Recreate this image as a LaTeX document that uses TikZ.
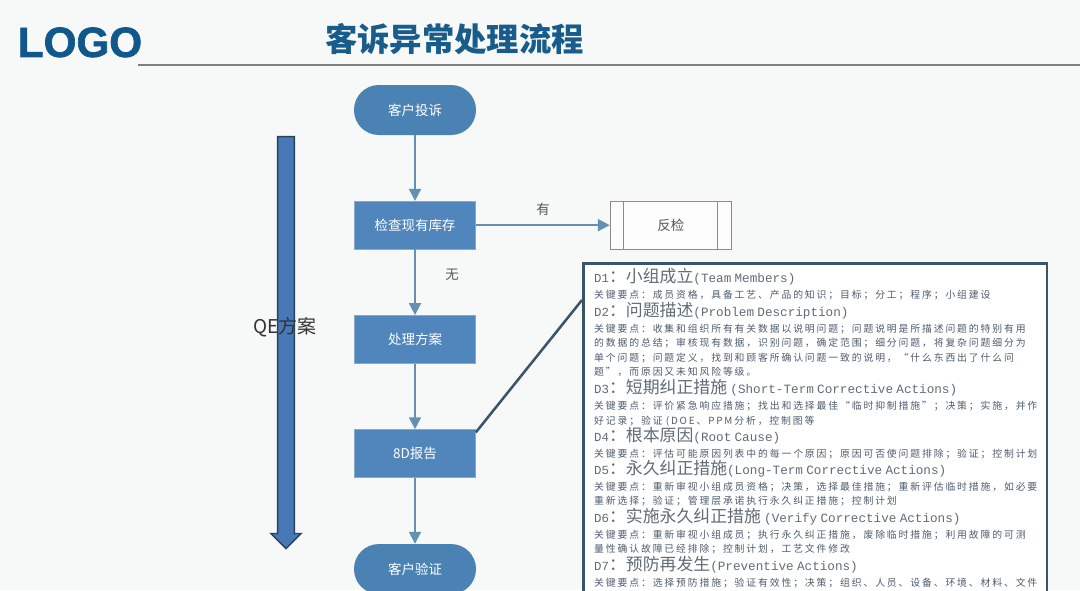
\documentclass[tikz,border=0pt]{standalone}
\usepackage{fontspec}
\setmainfont{Noto Sans CJK SC}
\newfontfamily\logofont[BoldFeatures={FakeBold=1.6}]{Liberation Sans}
\newfontfamily\monofont{Liberation Mono}
\newfontfamily\bodyfont[LetterSpace=19]{Noto Sans CJK SC}
\usetikzlibrary{shapes,arrows.meta,positioning,calc}
\definecolor{pagegrey}{RGB}{247,248,248}
\definecolor{logoblue}{RGB}{16,88,140}
\definecolor{titleblue}{RGB}{24,92,140}
\definecolor{rulegrey}{RGB}{128,128,128}
\definecolor{flowblue}{RGB}{80,134,188}
\definecolor{arrowblue}{RGB}{72,120,182}
\definecolor{roundblue}{RGB}{74,130,180}
\definecolor{linkblue}{RGB}{100,144,178}
\definecolor{edgeblue}{RGB}{140,170,195}
\definecolor{bordergrey}{RGB}{60,84,104}
\definecolor{headgrey}{RGB}{96,108,118}
\definecolor{bodygrey}{RGB}{78,92,110}
\newcommand{\dhead}[3]{{\color{headgrey}\fontsize{8.8}{10.3}\selectfont\monofont #1\fontsize{12}{10.3}\selectfont\rmfamily ：#2\fontsize{9}{10.3}\selectfont\monofont #3}}
\newcommand{\dbody}[1]{{\color{bodygrey}\bodyfont #1}}

\begin{document}
\begin{tikzpicture}[
    flowbox/.style={rectangle, fill=flowblue, draw=edgeblue, minimum width=3.025cm, minimum height=1.2cm,
                    font=\fontsize{9.6}{11}\selectfont, text=white, inner sep=0pt},
    endbox/.style={rectangle, rounded corners=0.62cm, fill=roundblue, minimum width=3.05cm, minimum height=1.25cm,
                   font=\fontsize{9.6}{11}\selectfont, text=white, inner sep=0pt},
    flowlabel/.style={font=\fontsize{9.6}{11}\selectfont, text=black!65},
    link/.style={draw=linkblue, line width=1.4pt, -{Triangle[length=8.5pt,width=8.5pt]}},
    >=Stealth
]
\useasboundingbox (0,0) rectangle (27,-14.75);
\clip (0,0) rectangle (27,-14.75);
\fill[pagegrey] (0,0) rectangle (27,-14.75);

% header
\node[font=\logofont\bfseries\fontsize{30}{30}\selectfont, text=logoblue, inner sep=0pt, anchor=center] (logo) at (2.0,-1.06) {LOGO};
\node[font=\bfseries\fontsize{23}{25}\selectfont, text=titleblue, inner sep=0pt] (title) at (11.36,-0.98) {客诉异常处理流程};
\coordinate (ruleleft) at (3.45,-1.63);
\coordinate (ruleright) at (27,-1.63);
\draw[rulegrey, line width=1.5pt] (ruleleft) -- (ruleright);

% flow
\node[endbox] (complaint) at (10.375,-2.75) {客户投诉};
\node[flowbox, below=1.64cm of complaint] (stock) {检查现有库存};
\node[flowbox, below=1.64cm of stock] (plan) {处理方案};
\node[flowbox, below=1.64cm of plan] (report) {8D报告};
\node[endbox, below=1.65cm of report] (verify) {客户验证};
\node[rectangle, draw=black!45, fill=white!60!pagegrey, thick, minimum width=3.025cm, minimum height=1.2cm,
      inner sep=0pt, right=3.35cm of stock, font=\fontsize{9.6}{11}\selectfont, text=black!65] (recheck) {反检};
\draw[black!45, thick] ($(recheck.north west)+(0.34,0)$) -- ($(recheck.south west)+(0.34,0)$);
\draw[black!45, thick] ($(recheck.north east)+(-0.36,0)$) -- ($(recheck.south east)+(-0.36,0)$);

\draw[link] (complaint) -- (stock);
\draw[link] (stock) -- (plan);
\draw[link] (plan) -- (report);
\draw[link] (report) -- (verify);
\draw[link] (stock) -- (recheck);
\node[flowlabel] (yes) at (13.58,-5.24) {有};
\node[flowlabel] (no) at (11.3,-6.87) {无};

% QE arrow
\node[single arrow, shape border rotate=270, draw=black!50!flowblue, fill=arrowblue, line width=1pt,
      minimum height=10.3cm, minimum width=0.75cm, single arrow head extend=0.17cm, inner sep=0.19cm] (qearrow) at (7.15,-8.46) {};
\node[font=\fontsize{13.5}{15}\selectfont, text=black!80, inner sep=0pt] (qelabel) at (7.13,-8.17) {QE方案};

% 8D text
\node[rectangle, draw=bordergrey, line width=2pt, fill=white, anchor=north west, inner xsep=0.27cm, inner ysep=0pt,
      text width=11.05cm, minimum height=8.25cm, align=left, font=\fontsize{7}{10.3}\selectfont\setlength{\lineskiplimit}{-20pt}] (detail) at (14.55,-6.55) {%
\dhead{D1}{小组成立}{(Team Members)}\\[1pt]
\dbody{关键要点：成员资格，具备工艺、产品的知识；目标；分工；程序；小组建设}\\[2.4pt]
\dhead{D2}{问题描述}{(Problem Description)}\\[1pt]
\dbody{关键要点：收集和组织所有有关数据以说明问题；问题说明是所描述问题的特别有用}\\
\dbody{的数据的总结；审核现有数据，识别问题，确定范围；细分问题，将复杂问题细分为}\\
\dbody{单个问题；问题定义，找到和顾客所确认问题一致的说明，“什么东西出了什么问}\\
\dbody{题”，而原因又未知风险等级。}\\[2.4pt]
\dhead{D3}{短期纠正措施}{ (Short-Term Corrective Actions)}\\[1pt]
\dbody{关键要点：评价紧急响应措施；找出和选择最佳“临时抑制措施”；决策；实施，并作}\\
\dbody{好记录；验证 (DOE、PPM分析，控制图等}\\[2.4pt]
\dhead{D4}{根本原因}{(Root Cause)}\\[0.5pt]
\dbody{关键要点：评估可能原因列表中的每一个原因；原因可否使问题排除；验证；控制计划}\\[2pt]
\dhead{D5}{永久纠正措施}{(Long-Term Corrective Actions)}\\[1pt]
\dbody{关键要点：重新审视小组成员资格；决策，选择最佳措施；重新评估临时措施，如必要}\\
\dbody{重新选择；验证；管理层承诺执行永久纠正措施；控制计划}\\[2.4pt]
\dhead{D6}{实施永久纠正措施}{ (Verify Corrective Actions)}\\[1pt]
\dbody{关键要点：重新审视小组成员；执行永久纠正措施，废除临时措施；利用故障的可测}\\
\dbody{量性确认故障已经排除；控制计划，工艺文件修改}\\[2.4pt]
\dhead{D7}{预防再发生}{(Preventive Actions)}\\[1pt]
\dbody{关键要点：选择预防措施；验证有效性；决策；组织、人员、设备、环境、材料、文件}%
};
\draw[bordergrey, line width=1.8pt] ($(report.north east)+(0,-0.08)$) -- ($(detail.north west)+(0,-0.95)$);
\end{tikzpicture}
\end{document}
